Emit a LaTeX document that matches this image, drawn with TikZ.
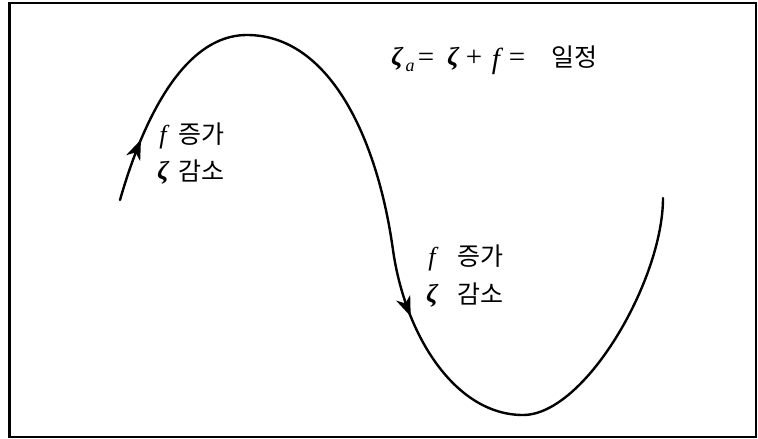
\documentclass[tikz,border=0pt]{standalone}
\usepackage{fontspec}
\setmainfont{Noto Sans CJK KR}
\newfontfamily\grk{Liberation Serif}
\usetikzlibrary{arrows.meta,decorations.markings}
\begin{document}
\begin{tikzpicture}[x=1pt,y=-1pt,
  frame/.style={draw=black, line width=2.2pt},
  wave/.style={line width=2.4pt, line cap=round, postaction={decorate},
    decoration={markings,
      mark=at position 64pt with {\arrow{Stealth[length=20pt,width=15pt,inset=6pt]}},
      mark=at position 572pt with {\arrow{Stealth[length=20pt,width=15pt,inset=6pt]}}}},
  kor/.style={font=\fontsize{25}{30}\selectfont, inner sep=0pt, anchor=base west},
  sym/.style={font=\fontsize{26}{30}\selectfont\grk\itshape, inner sep=0pt, anchor=base},
  bsym/.style={font=\fontsize{26}{30}\selectfont\grk\bfseries\itshape, inner sep=0pt, anchor=base},
  op/.style={font=\fontsize{29}{32}\selectfont\grk, inner sep=0pt, anchor=base},
  subs/.style={font=\fontsize{18}{20}\selectfont\grk\itshape, inner sep=0pt, anchor=base}
]
\useasboundingbox (0,0) rectangle (758,439);
\draw[frame] (9.5,3) rectangle (756,437);
\coordinate (S) at (120,200);
\coordinate (P) at (247,35);
\coordinate (Q) at (393,250);
\coordinate (B) at (523,415);
\coordinate (E) at (663,198);
\draw[wave] (S) .. controls (140,130) and (180,35) .. (P)
  .. controls (328,35) and (377,135) .. (Q)
  .. controls (405,335) and (455,415) .. (B)
  .. controls (585,415) and (663,280) .. (E);
% labels, left branch
\node[sym]  (f1) at (163,143) {f};
\node[kor]  (w1) at (178,143) {증가};
\node[bsym] (z1) at (163,179) {ζ};
\node[kor]  (v1) at (178,180) {감소};
% labels, middle branch
\node[sym]  (f2) at (432,265) {f};
\node[kor]  (w2) at (457,265) {증가};
\node[bsym] (z2) at (432,302) {ζ};
\node[kor]  (v2) at (457,303) {감소};
% equation
\node[bsym] (za) at (397,65) {ζ};
\node[subs] (sa) at (410,71) {a};
\node[op]   (e1) at (426,66) {=};
\node[bsym] (zb) at (453,65) {ζ};
\node[op]   (pl) at (474,66) {+};
\node[sym, font=\fontsize{29}{32}\selectfont\grk\itshape] (fc) at (496,68) {f};
\node[op]   (e2) at (517,66) {=};
\node[kor]  (c)  at (551,66) {일정};
\end{tikzpicture}
\end{document}
